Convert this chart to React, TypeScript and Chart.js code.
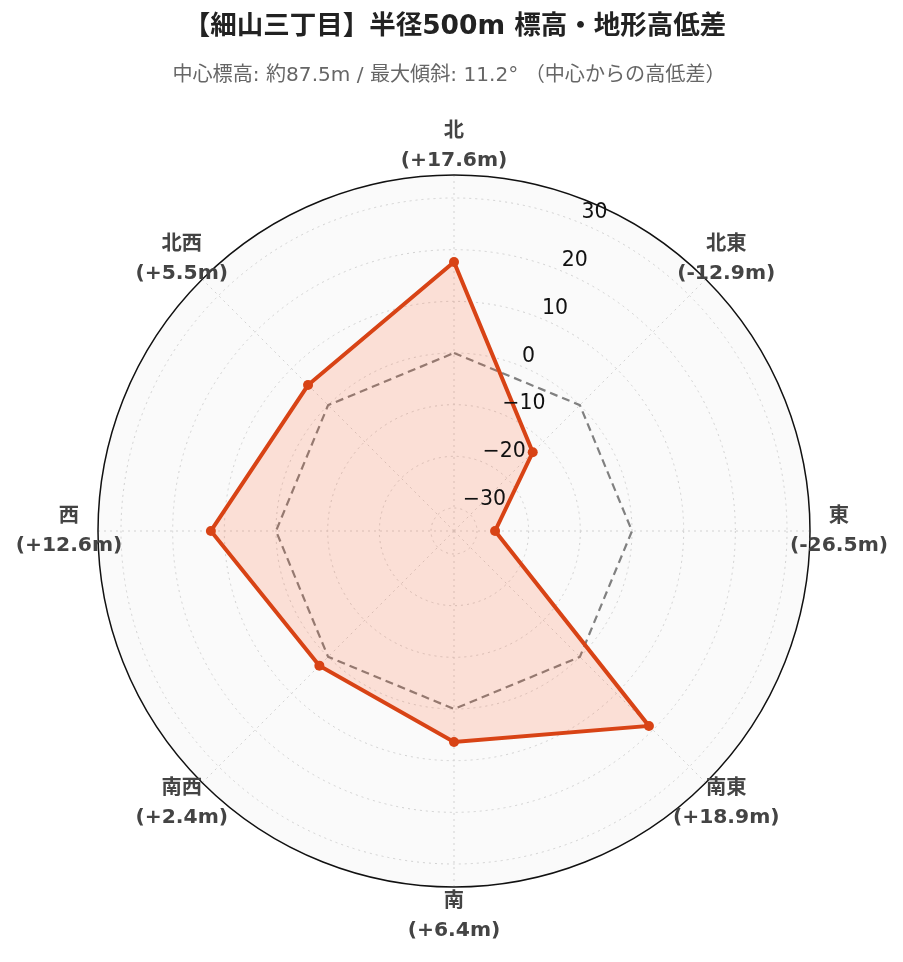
import React, { useEffect, useRef } from "react";
import { Chart, registerables } from "chart.js";

Chart.register(...registerables);

const directions = ["北", "北東", "東", "南東", "南", "南西", "西", "北西"];
const elevationDiff = [17.6, -12.9, -26.5, 18.9, 6.4, 2.4, 12.6, 5.5];
const zeroLine = [0, 0, 0, 0, 0, 0, 0, 0];
const tickValues = [-30, -20, -10, 0, 10, 20, 30];
const axisMin = -34.45;
const axisMax = 34.45;

const titleText = "【細山三丁目】半径500m 標高・地形高低差";
const subtitleText = "中心標高: 約87.5m / 最大傾斜: 11.2° （中心からの高低差）";

const LATIN = "'DejaVu Sans', 'Noto Sans CJK JP', sans-serif";

function fmtDiff(v: number): string {
  return "(" + (v >= 0 ? "+" : "") + v.toFixed(1) + "m)";
}
function fmtTick(v: number): string {
  return v < 0 ? "\u2212" + Math.abs(v) : String(v);
}

const decorPlugin = {
  id: "decor",
  beforeDraw(chart: any) {
    const s = chart.scales.r;
    const ctx = chart.ctx;
    ctx.save();
    ctx.beginPath();
    ctx.arc(s.xCenter, s.yCenter, s.drawingArea, 0, Math.PI * 2);
    ctx.fillStyle = "#fafafa";
    ctx.fill();
    ctx.restore();
  },
  afterDraw(chart: any) {
    const s = chart.scales.r;
    const ctx = chart.ctx;
    ctx.save();
    // outer circle
    ctx.beginPath();
    ctx.arc(s.xCenter, s.yCenter, s.drawingArea, 0, Math.PI * 2);
    ctx.strokeStyle = "#111";
    ctx.lineWidth = 1.5;
    ctx.stroke();

    // radial tick labels along 22.5°
    ctx.fillStyle = "#111";
    ctx.font = "20.5px " + LATIN;
    ctx.textAlign = "left";
    ctx.textBaseline = "bottom";
    tickValues.forEach((v) => {
      const p = s.getPointPosition(0.5, s.getDistanceFromCenterForValue(v));
      ctx.fillText(fmtTick(v), p.x, p.y);
    });

    // point labels
    ctx.fillStyle = "#444";
    ctx.font = "bold 20.3px " + LATIN;
    ctx.textAlign = "center";
    ctx.textBaseline = "middle";
    directions.forEach((d, i) => {
      const p = s.getPointPosition(i, s.drawingArea + 29);
      ctx.fillText(d, p.x, p.y - 14.5);
      ctx.fillText(fmtDiff(elevationDiff[i]), p.x, p.y + 14.5);
    });

    // title & subtitle
    ctx.fillStyle = "#222";
    ctx.font = "bold 26.5px " + LATIN;
    ctx.fillText(titleText, 455, 27);
    ctx.fillStyle = "#666";
    ctx.font = "20.1px " + LATIN;
    ctx.fillText(subtitleText, 449, 76);
    ctx.restore();
  },
};

export default function App() {
  const ref = useRef<HTMLCanvasElement | null>(null);
  useEffect(() => {
    if (!ref.current) return;
    const chart = new Chart(ref.current, {
      type: "radar",
      data: {
        labels: directions,
        datasets: [
          {
            label: "高低差",
            data: elevationDiff,
            borderColor: "#D84315",
            backgroundColor: "rgba(255,87,34,0.17)",
            borderWidth: 4,
            fill: "start",
            pointRadius: 5,
            pointBackgroundColor: "#D84315",
            pointBorderWidth: 0,
          },
          {
            label: "中心",
            data: zeroLine,
            borderColor: "#808080",
            borderWidth: 2.2,
            borderDash: [8, 5],
            fill: false,
            pointRadius: 0,
          },
        ],
      },
      options: {
        responsive: false,
        animation: false,
        layout: { padding: { left: 98, right: 93, top: 175, bottom: 75 } },
        plugins: {
          legend: { display: false },
          title: { display: false },
          tooltip: { enabled: false },
        },
        scales: {
          r: {
            min: axisMin,
            max: axisMax,
            afterBuildTicks: (scale: any) => {
              scale.ticks = tickValues.map((v) => ({ value: v }));
            },
            ticks: { display: false },
            pointLabels: { display: false },
            grid: {
              circular: true,
              color: "#d2d2d2",
              lineWidth: 1,
            },
            border: { dash: [2, 4] },
            angleLines: {
              color: "#d2d2d2",
              lineWidth: 1,
              borderDash: [2, 4],
            },
          },
        },
      },
      plugins: [decorPlugin],
    });
    return () => chart.destroy();
  }, []);
  return (
    <div style={{ position: "absolute", left: 0, top: 0, width: 903, height: 962, background: "#fff" }}>
      <canvas ref={ref} width={903} height={962} style={{ width: 903, height: 962, display: "block" }} />
    </div>
  );
}
